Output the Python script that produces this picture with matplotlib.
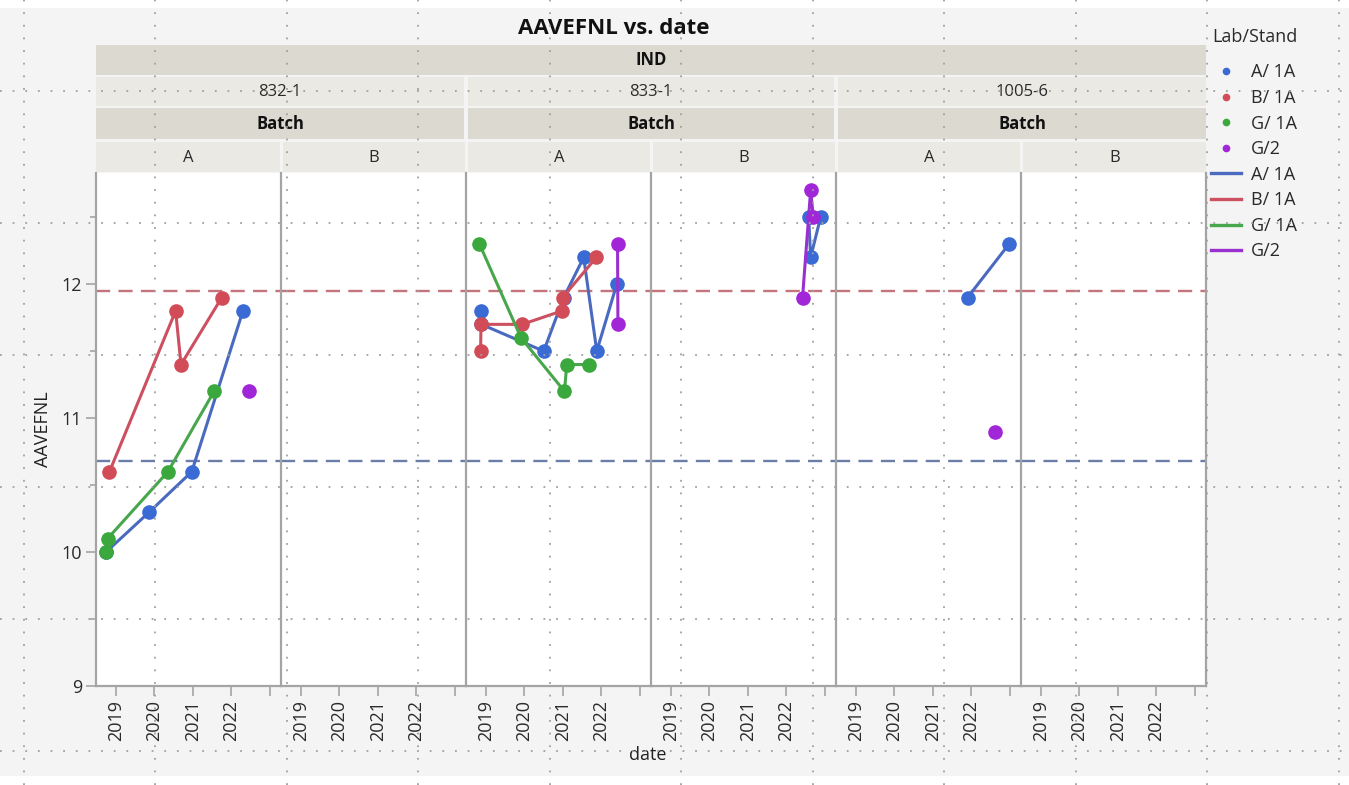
import matplotlib
matplotlib.use('Agg')
import matplotlib.pyplot as plt
from matplotlib.lines import Line2D
from matplotlib.patches import Rectangle
from matplotlib.ticker import FixedLocator

W, H = 1349, 785
DPI = 100
plt.rcParams['font.family'] = ['Open Sans', 'DejaVu Sans']

# ---------------- data ----------------
title = 'AAVEFNL vs. date'
top_header = 'IND'
groups = ['832-1', '833-1', '1005-6']
batches = ['A', 'B']
year_ticks = [2019, 2020, 2021, 2022, 2023]
year_labels = ['2019', '2020', '2021', '2022', '']
y_ticks = [9, 10, 11, 12]
y_minor = [9.5, 10.5, 11.5, 12.5]
series_names = ['A/ 1A', 'B/ 1A', 'G/ 1A', 'G/2']
legend_title = 'Lab/Stand'

# panel index: 0=832-1/A, 1=832-1/B, 2=833-1/A, 3=833-1/B, 4=1005-6/A, 5=1005-6/B
a1a_panel = [0, 0, 0, 0, 2, 2, 2, 2, 2, 2, 2, 3, 3, 3, 4, 4]
a1a_date = [2018.74, 2019.87, 2020.97, 2022.30,
            2018.87, 2018.88, 2020.50, 2021.02, 2021.54, 2021.88, 2022.40,
            2022.58, 2022.63, 2022.89,
            2021.90, 2022.98]
a1a_val = [10.0, 10.3, 10.6, 11.8,
           11.8, 11.7, 11.5, 11.9, 12.2, 11.5, 12.0,
           12.5, 12.2, 12.5,
           11.9, 12.3]

b1a_panel = [0, 0, 0, 0, 2, 2, 2, 2, 2, 2]
b1a_date = [2018.83, 2020.55, 2020.69, 2021.75,
            2018.86, 2018.87, 2019.94, 2020.97, 2020.99, 2021.87]
b1a_val = [10.6, 11.8, 11.4, 11.9,
           11.5, 11.7, 11.7, 11.8, 11.9, 12.2]

g1a_panel = [0, 0, 0, 0, 2, 2, 2, 2, 2]
g1a_date = [2018.74, 2018.78, 2020.35, 2021.55,
            2018.83, 2019.91, 2021.04, 2021.10, 2021.69]
g1a_val = [10.0, 10.1, 10.6, 11.2,
           12.3, 11.6, 11.2, 11.4, 11.4]

g2_panel = [0, 2, 2, 3, 3, 3, 4]
g2_date = [2022.47, 2022.42, 2022.43, 2022.42, 2022.63, 2022.70, 2022.61]
g2_val = [11.2, 12.3, 11.7, 11.9, 12.7, 12.5, 10.9]

ref_upper = 11.95
ref_lower = 10.68

# ---------------- styles ----------------
marker_colors = ['#3a6bd4', '#d24c58', '#3aa83c', '#a126d8']
line_colors = ['#4a6ac0', '#cc5060', '#48a64c', '#9a30d0']
series_data = [(a1a_panel, a1a_date, a1a_val),
               (b1a_panel, b1a_date, b1a_val),
               (g1a_panel, g1a_date, g1a_val),
               (g2_panel, g2_date, g2_val)]

BG = '#f4f4f4'
HDR_DARK = '#dcdad0'
HDR_LIGHT = '#ebe9e3'
SPINE = '#a4a4a4'
TXT = '#2a2a2a'

fig = plt.figure(figsize=(W / DPI, H / DPI), dpi=DPI, facecolor=BG)


def fx(x):
    return x / W


def fy(y):
    return 1 - y / H


def rect(x0, y0, x1, y1, color, z=1):
    fig.add_artist(Rectangle((fx(x0), fy(y1)), fx(x1) - fx(x0), fy(y0) - fy(y1),
                             transform=fig.transFigure, facecolor=color,
                             edgecolor='none', zorder=z))


# white strips top / bottom of screenshot
rect(0, 0, W, 8, 'white', 0.5)
rect(0, 776, W, H, 'white', 0.5)

# ---------------- layout ----------------
PLOT_L, PLOT_R = 96, 1206
PLOT_T, PLOT_B = 173, 686
n_panels = len(groups) * len(batches)
pw = (PLOT_R - PLOT_L) / n_panels
HFS = 12

# headers
rect(PLOT_L, 45, PLOT_R, 75, HDR_DARK)
fig.text(fx((PLOT_L + PLOT_R) / 2), fy(60), top_header, ha='center', va='center',
         fontsize=HFS, fontweight='bold', color='#111111')
gw = (PLOT_R - PLOT_L) / len(groups)
for gi, g in enumerate(groups):
    gx0 = PLOT_L + gi * gw + (2 if gi > 0 else 0)
    gx1 = PLOT_L + (gi + 1) * gw - (2 if gi < len(groups) - 1 else 0)
    rect(gx0, 77, gx1, 106, HDR_LIGHT)
    fig.text(fx((gx0 + gx1) / 2), fy(92), g, ha='center', va='center',
             fontsize=HFS, color=TXT)
    rect(gx0, 108, gx1, 139, HDR_DARK)
    fig.text(fx((gx0 + gx1) / 2), fy(124), 'Batch', ha='center', va='center',
             fontsize=HFS, fontweight='bold', color='#111111')
    for bi, b in enumerate(batches):
        pi = gi * len(batches) + bi
        bx0 = PLOT_L + pi * pw + (2 if pi > 0 else 0)
        bx1 = PLOT_L + (pi + 1) * pw - (1 if pi < n_panels - 1 else 0)
        rect(bx0, 142, bx1, 172, HDR_LIGHT)
        fig.text(fx((bx0 + bx1) / 2), fy(158), b, ha='center', va='center',
                 fontsize=HFS, color=TXT)

fig.text(fx(614), fy(28), title, ha='center', va='center', fontsize=16,
         fontweight='bold', color='#111111')

# panels
axes = []
for pi in range(n_panels):
    x0 = PLOT_L + pi * pw
    ax = fig.add_axes([fx(x0), fy(PLOT_B), pw / W, (PLOT_B - PLOT_T) / H])
    ax.set_facecolor('white')
    ax.set_xlim(2018.48, 2023.29)
    ax.set_ylim(9, 12.83)
    ax.spines['top'].set_visible(False)
    if pi < n_panels - 1:
        ax.spines['right'].set_visible(False)
    for s in ['left', 'bottom', 'right']:
        ax.spines[s].set_color(SPINE)
        ax.spines[s].set_linewidth(1.6)
    ax.xaxis.set_major_locator(FixedLocator(year_ticks))
    ax.set_xticklabels(year_labels, rotation=90, fontsize=13, color=TXT)
    ax.tick_params(axis='x', length=7, width=1.2, color=SPINE, pad=3)
    if pi == 0:
        ax.yaxis.set_major_locator(FixedLocator(y_ticks))
        ax.yaxis.set_minor_locator(FixedLocator(y_minor))
        ax.set_yticklabels([str(v) for v in y_ticks], fontsize=13, color=TXT)
        ax.tick_params(axis='y', which='major', length=7, width=1.2, color=SPINE, pad=3)
        ax.tick_params(axis='y', which='minor', length=4, width=1.2, color=SPINE)
        ax.set_ylabel('AAVEFNL', fontsize=13, color='#222222', labelpad=7)
    else:
        ax.set_yticks([])
    ax.axhline(ref_upper, color='#c4747c', lw=1.7, ls=(0, (6, 3.5)), zorder=1)
    ax.axhline(ref_lower, color='#6a7ea8', lw=1.7, ls=(0, (6, 3.5)), zorder=1)
    for si, (pan, dts, vals) in enumerate(series_data):
        xs = [d for p, d in zip(pan, dts) if p == pi]
        ys = [v for p, v in zip(pan, vals) if p == pi]
        if xs:
            ax.plot(xs, ys, '-', color=line_colors[si], lw=2.2, zorder=2 + si)
            ax.plot(xs, ys, 'o', color=marker_colors[si], ms=9.5, mec=marker_colors[si],
                    zorder=2.5 + si, clip_on=False)
    axes.append(ax)

fig.text(fx(648), fy(755), 'date', ha='center', va='center', fontsize=13, color='#222222')

# legend
fig.text(fx(1212), fy(37), legend_title, ha='left', va='center', fontsize=13, color=TXT)
handles = []
for si in range(len(series_names)):
    handles.append(Line2D([], [], ls='none', marker='o', ms=4.5, color=marker_colors[si]))
for si in range(len(series_names)):
    handles.append(Line2D([], [], ls='-', lw=2.4, color=line_colors[si]))
leg = fig.legend(handles, series_names + series_names, loc='upper left',
                 bbox_to_anchor=(fx(1206), fy(58)), frameon=False,
                 fontsize=13, handlelength=1.65, handletextpad=0.55, labelspacing=0.42,
                 borderaxespad=0, borderpad=0.3)
for t in leg.get_texts():
    t.set_color(TXT)

# dotted overlay grid of the screenshot
for k in range(11):
    x = 23.5 + 131.5 * k
    fig.add_artist(Line2D([fx(x), fx(x)], [0, 1], transform=fig.transFigure,
                          color='#a0a0a0', lw=1.3, ls=(0, (1, 6)), zorder=20))
for k in range(6):
    y = 91 + 132 * k
    fig.add_artist(Line2D([0, 1], [fy(y), fy(y)], transform=fig.transFigure,
                          color='#a0a0a0', lw=1.3, ls=(0, (1, 6)), zorder=20))

fig.savefig('out.png', dpi=DPI, facecolor=BG)
